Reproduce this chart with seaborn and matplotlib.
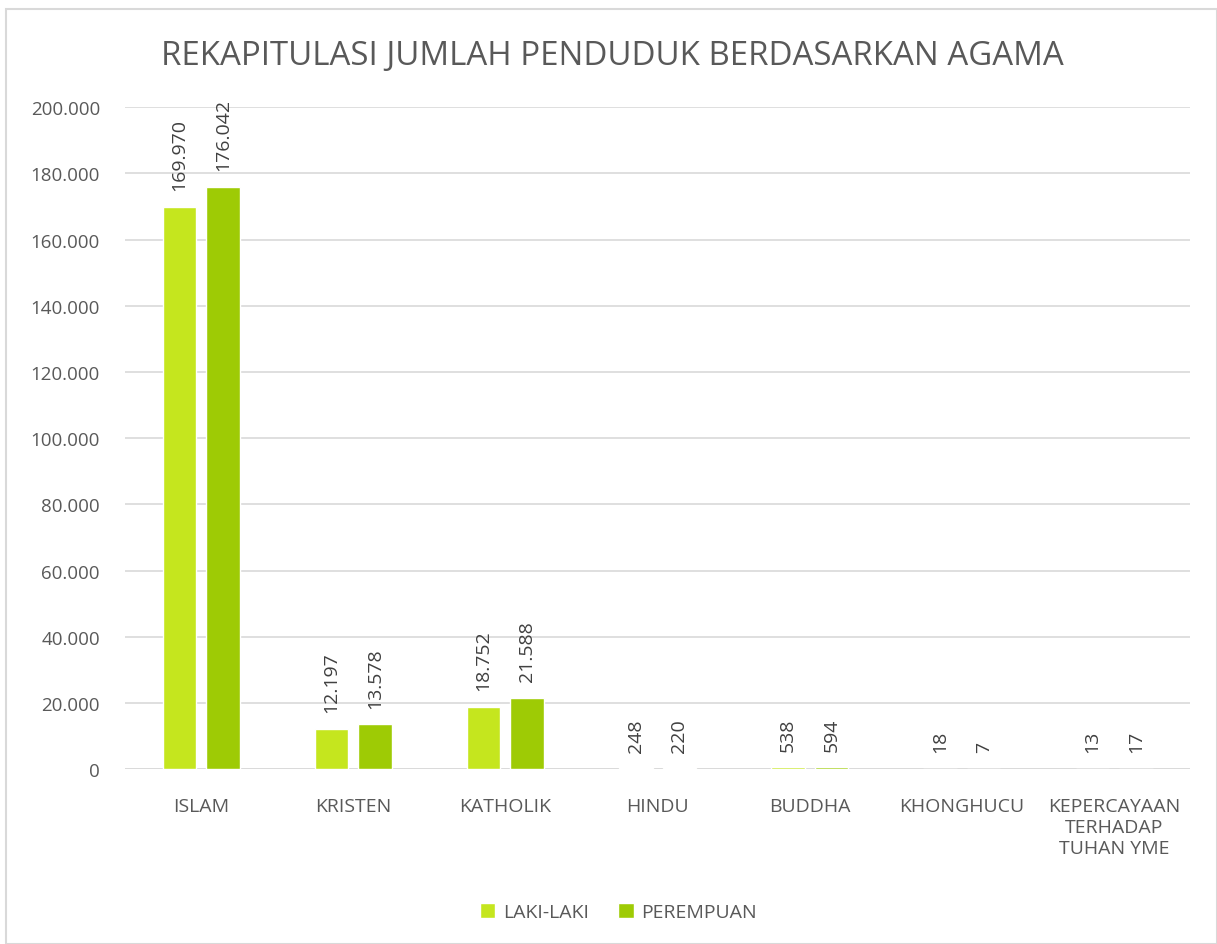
import pandas as pd
import matplotlib.pyplot as plt
import seaborn as sns
from matplotlib.patches import Rectangle

agama = ["ISLAM", "KRISTEN", "KATHOLIK", "HINDU", "BUDDHA", "KHONGHUCU",
         "KEPERCAYAAN\nTERHADAP\nTUHAN YME"]
laki = [169970, 12197, 18752, 248, 538, 18, 13]
perempuan = [176042, 13578, 21588, 220, 594, 7, 17]

df = pd.DataFrame({
    "agama": agama * 2,
    "jumlah": laki + perempuan,
    "jk": ["LAKI-LAKI"] * len(agama) + ["PEREMPUAN"] * len(agama),
})

sns.set_style("white")
plt.rcParams['font.family'] = ['Open Sans', 'DejaVu Sans']
grey = "#595959"

fig = plt.figure(figsize=(12.17, 9.45), dpi=100)
ax = fig.add_axes([0.1027, 0.185, 0.8753, 0.7005])

sns.barplot(data=df, x="agama", y="jumlah", hue="jk",
            palette=["#C5E61E", "#9ECB05"], saturation=1, width=0.572, gap=0.23,
            ax=ax, zorder=3)

def fmt(v):
    return f"{v:,}".replace(",", ".")

for cont in ax.containers:
    for bar in cont:
        h = bar.get_height()
        ax.annotate(fmt(int(h)), (bar.get_x() + bar.get_width() / 2, h),
                    xytext=(0, 12), textcoords="offset points",
                    rotation=90, ha="center", va="bottom", fontsize=14, color="#404040")

ax.set_ylim(0, 200000)
ax.set_yticks(range(0, 200001, 20000))
ax.set_yticklabels([fmt(v) for v in range(0, 200001, 20000)])
ax.yaxis.grid(True, color="#d9d9d9", linewidth=1.2, zorder=0)
ax.set_axisbelow(True)
for s in ax.spines.values():
    s.set_visible(False)
ax.axhline(0, color="#d9d9d9", linewidth=1.2)
ax.tick_params(axis="both", length=0, labelsize=14, labelcolor=grey)
ax.tick_params(axis="x", pad=20)
ax.tick_params(axis="y", labelsize=13.5, pad=18)
ax.set_xlabel("")
ax.set_ylabel("")

fig.text(0.503, 0.94, "REKAPITULASI JUMLAH PENDUDUK BERDASARKAN AGAMA",
         ha="center", va="center", fontsize=23.8, color=grey)

handles, labels = ax.get_legend_handles_labels()
ax.get_legend().remove()
fig.legend(handles, labels, loc="center", bbox_to_anchor=(0.508, 0.034), ncol=2,
           frameon=False, fontsize=14, labelcolor=grey, handlelength=0.8,
           handleheight=0.8, columnspacing=1.5, handletextpad=0.4)

fig.patches.append(Rectangle((6 / 1217, 0), 1 - 6 / 1217, 1 - 10 / 945,
                             transform=fig.transFigure, fill=False,
                             edgecolor="#d9d9d9", linewidth=1.5))

fig.savefig("out.png", dpi=100)
